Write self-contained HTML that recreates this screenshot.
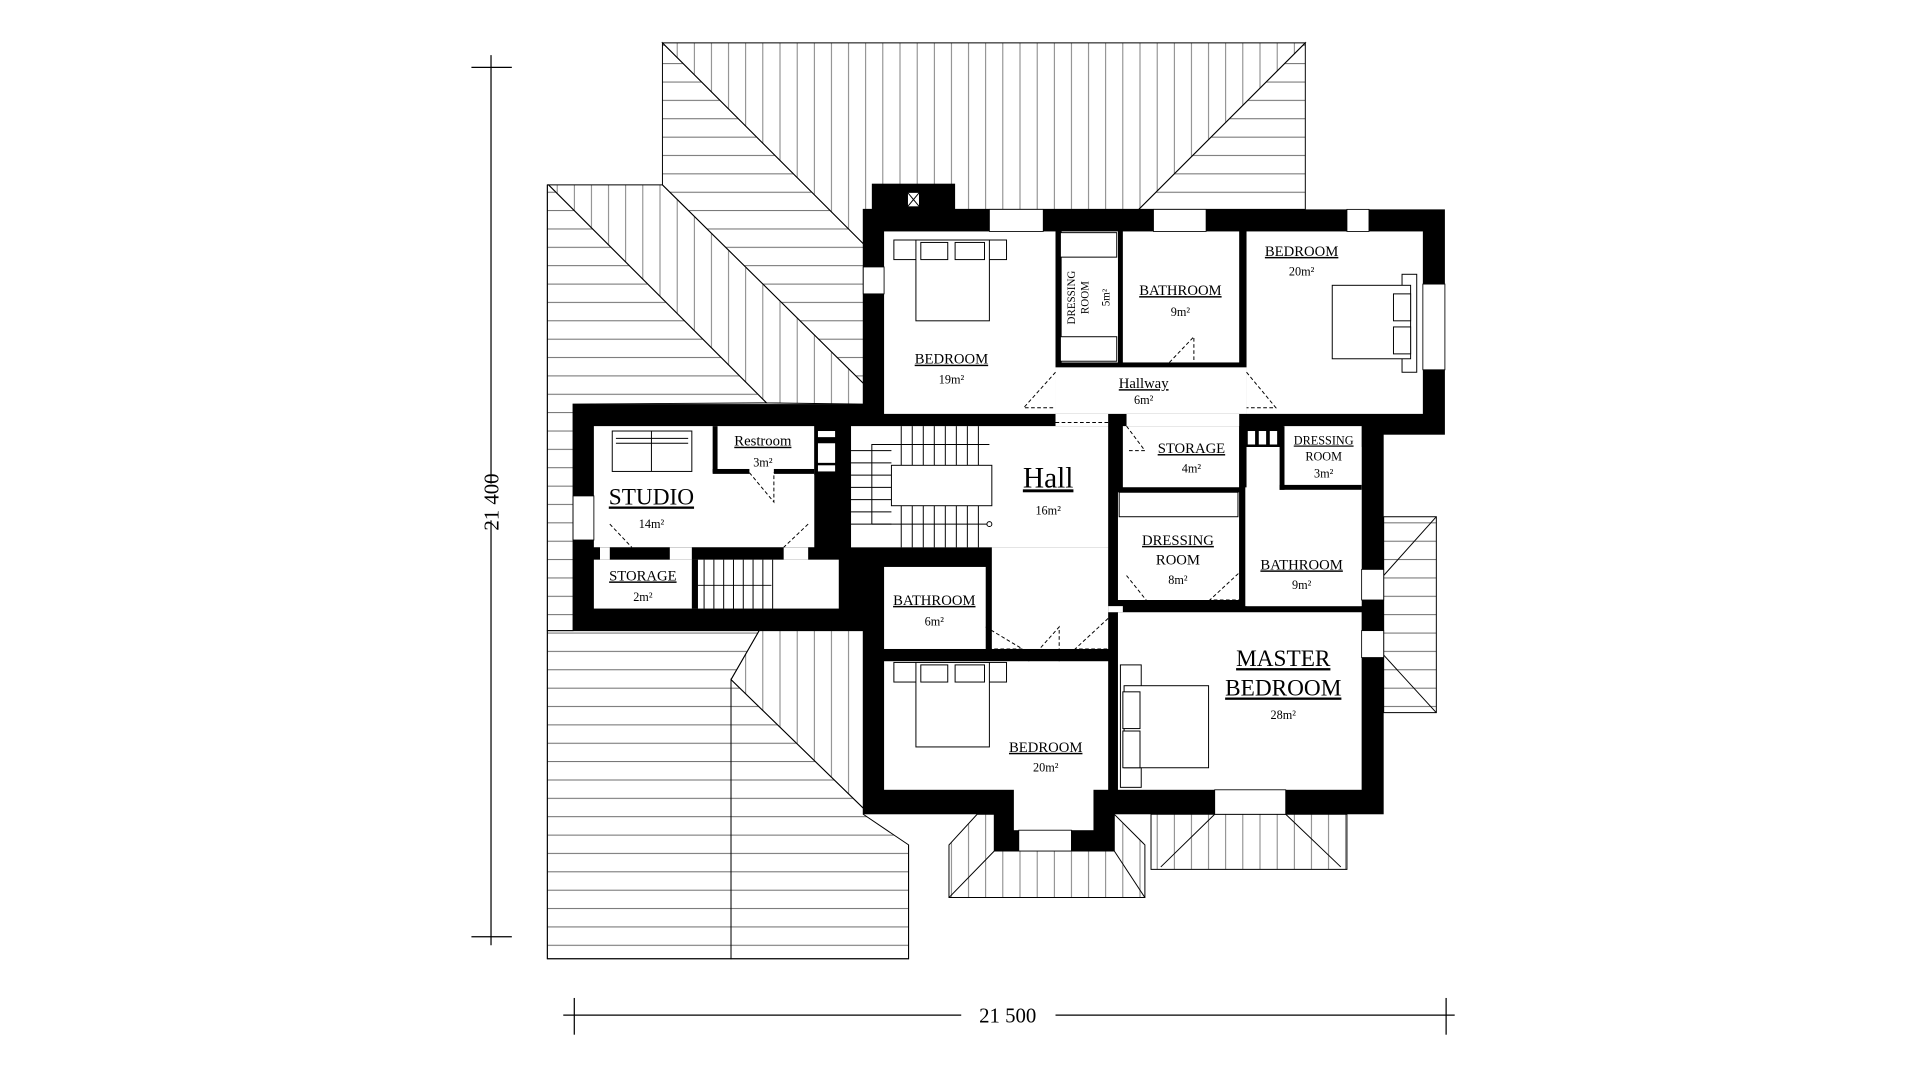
<!DOCTYPE html>
<html><head><meta charset="utf-8"><style>html,body{margin:0;padding:0;background:#fff}svg{display:block}text{font-family:"Liberation Serif",serif;fill:#000}</style></head>
<body>
<svg width="1920" height="1080" viewBox="0 0 1568 882" preserveAspectRatio="none" xmlns="http://www.w3.org/2000/svg">
<defs>
<pattern id="hv" width="14" height="10" patternUnits="userSpaceOnUse"><line x1="7" y1="0" x2="7" y2="10" stroke="#555" stroke-width="0.6"/></pattern>
<pattern id="hh" width="10" height="15" patternUnits="userSpaceOnUse"><line x1="0" y1="7" x2="10" y2="7" stroke="#555" stroke-width="0.7"/></pattern>
</defs>
<rect width="1568" height="882" fill="#fff"/>
<g stroke="#000" stroke-width="1">
<line x1="401" y1="45" x2="401" y2="395"/><line x1="401" y1="425" x2="401" y2="772"/>
<line x1="385" y1="55" x2="418" y2="55"/><line x1="385" y1="765" x2="418" y2="765"/>
<line x1="460" y1="829" x2="785" y2="829"/><line x1="862" y1="829" x2="1188" y2="829"/>
<line x1="469" y1="815" x2="469" y2="845"/><line x1="1181" y1="815" x2="1181" y2="845"/>
</g>
<text x="0" y="0" font-size="17" text-anchor="middle" transform="translate(407,410) rotate(-90)">21 400</text>
<text x="823" y="835" font-size="17" text-anchor="middle">21 500</text>
<g stroke="#000" stroke-width="0.8">
<polygon points="541,35 1066,35 930,171 705,171 705,199" fill="url(#hv)"/>
<polygon points="541,35 705,199 705,313 541,151" fill="url(#hh)"/>
<polygon points="1066,35 1066,171 930,171" fill="url(#hh)"/>
<polygon points="448,151 541,151 705,313 705,330 626,329" fill="url(#hv)"/>
<polygon points="447,151 448,151 626,329 468,330 468,515 447,515" fill="url(#hh)"/>
<polygon points="447,515 620,515 597,555 597,783 447,783" fill="url(#hh)"/>
<polygon points="620,515 705,515 705,660 597,555" fill="url(#hv)"/>
<polygon points="597,555 705,660 705,665 742,690 742,783 597,783" fill="url(#hh)"/>
<polyline points="447,151 447,783 742,783 742,690" fill="none"/>
<polygon points="1130,422 1173,422 1173,582 1130,582" fill="url(#hh)"/>
<line x1="1130" y1="470" x2="1173" y2="422"/><line x1="1130" y1="535" x2="1173" y2="582"/>
<polygon points="798,665 812,665 812,695 910,695 910,665 935,690 935,733 775,733 775,690" fill="url(#hv)"/>
<line x1="812" y1="695" x2="775" y2="733"/><line x1="910" y1="695" x2="935" y2="733"/>
<polygon points="940,665 1100,665 1100,710 940,710" fill="url(#hv)"/>
<line x1="992" y1="665" x2="948" y2="708"/><line x1="1050" y1="665" x2="1095" y2="708"/>
</g>
<g fill="#000">
<rect x="705" y="171" width="475" height="184"/>
<rect x="468" y="330" width="254" height="185"/>
<rect x="705" y="338" width="425" height="327"/>
<rect x="812" y="640" width="98" height="55"/>
<rect x="712" y="150" width="68" height="22"/>
</g>
<rect x="741" y="157" width="10" height="12" fill="#fff" stroke="#000"/>
<line x1="741" y1="157" x2="751" y2="169" stroke="#000" stroke-width="0.8"/><line x1="751" y1="157" x2="741" y2="169" stroke="#000" stroke-width="0.8"/>
<g fill="#fff">
<rect x="722" y="189" width="140" height="149"/>
<rect x="867" y="189" width="46" height="107"/>
<rect x="917" y="189" width="95" height="107"/>
<rect x="1018" y="189" width="144" height="149"/>
<rect x="862" y="300" width="156" height="38"/>
<rect x="862" y="338" width="43" height="10"/>
<rect x="920" y="338" width="92" height="10"/>
<rect x="695" y="348" width="210" height="99"/>
<rect x="810" y="447" width="95" height="83"/>
<rect x="485" y="348" width="180" height="99"/>
<rect x="485" y="457" width="200" height="40"/>
<rect x="722" y="463" width="83" height="67"/>
<rect x="722" y="540" width="183" height="105"/>
<rect x="828" y="640" width="65" height="38"/>
<rect x="917" y="348" width="95" height="50"/>
<rect x="1048" y="348" width="64" height="50"/>
<rect x="913" y="402" width="99" height="88"/>
<rect x="1018" y="365" width="94" height="130"/>
<rect x="1015" y="398" width="97" height="97"/>
<rect x="913" y="500" width="199" height="145"/>
<rect x="905" y="495" width="12" height="5"/>
</g>
<g fill="#000">
<rect x="582" y="348" width="4" height="38"/><rect x="582" y="383" width="30" height="4"/><rect x="632" y="383" width="33" height="4"/>
<rect x="665" y="348" width="20" height="40"/><rect x="685" y="348" width="10" height="99"/>
<rect x="485" y="447" width="210" height="10"/>
<rect x="565" y="457" width="5" height="40"/>
<rect x="1012" y="348" width="5" height="150"/>
<rect x="1015" y="350" width="33" height="15"/>
<rect x="1045" y="348" width="4" height="52"/><rect x="1045" y="396" width="67" height="4"/>
<rect x="913" y="398" width="99" height="4"/>
</g>
<g fill="#fff"><rect x="490" y="447" width="8" height="10"/><rect x="547" y="447" width="18" height="10"/><rect x="640" y="447" width="20" height="10"/>
<rect x="668" y="352" width="14" height="5"/><rect x="668" y="362" width="14" height="16"/><rect x="668" y="380" width="14" height="5"/>
<rect x="1019" y="352" width="6" height="11"/><rect x="1028" y="352" width="6" height="11"/><rect x="1037" y="352" width="6" height="11"/></g>
<g fill="#fff" stroke="#000" stroke-width="0.7">
<rect x="808" y="171" width="44" height="18"/><rect x="942" y="171" width="43" height="18"/><rect x="1100" y="171" width="18" height="18"/>
<rect x="705" y="218" width="17" height="22"/><rect x="1162" y="232" width="18" height="70"/>
<rect x="468" y="405" width="17" height="36"/>
<rect x="1112" y="465" width="18" height="25"/><rect x="1112" y="515" width="18" height="22"/>
<rect x="992" y="645" width="58" height="20"/><rect x="832" y="678" width="43" height="17"/>
</g>
<g stroke="#000" stroke-width="0.8" stroke-dasharray="3,2" fill="none">
<line x1="862" y1="345" x2="905" y2="345"/><line x1="1050" y1="342" x2="1112" y2="342"/>
<polyline points="862,304 836,333 862,333"/><polyline points="1018,304 1042,333 1018,333"/>
<polyline points="955,296 975,275 975,296"/><polyline points="920,348 935,368 920,368"/>
<polyline points="612,386 632,410 632,386"/><polyline points="498,428 516,447"/><polyline points="660,428 640,447"/>
<polyline points="805,512 835,530 805,530"/><polyline points="840,540 865,512 865,540"/><polyline points="905,505 878,530 905,530"/>
<polyline points="920,470 940,495"/><polyline points="1015,465 988,490 1015,490"/>
</g>
<g stroke="#000" stroke-width="0.8" fill="none">
<rect x="728" y="380" width="82" height="33"/>
<path d="M736 348v32M745 348v32M754 348v32M763 348v32M772 348v32M781 348v32M790 348v32M799 348v32M736 413v34M745 413v34M754 413v34M763 413v34M772 413v34M781 413v34M790 413v34M799 413v34M695 368h33M695 378h33M695 388h33M695 398h33M695 408h33M695 418h33M695 428h33"/>
<polyline points="712,428 712,363 808,363"/><polyline points="712,428 808,428"/>
<path d="M575 457v40M583 457v40M591 457v40M599 457v40M607 457v40M615 457v40M623 457v40M631 457v40M570 478h60"/>
<circle cx="808" cy="428" r="2" fill="#fff"/>
</g>
<g stroke="#000" stroke-width="0.8" fill="#fff">
<rect x="730" y="196" width="92" height="16"/><rect x="748" y="196" width="60" height="66"/><rect x="752" y="198" width="22" height="14"/><rect x="780" y="198" width="24" height="14"/>
<rect x="1145" y="224" width="12" height="80"/><rect x="1088" y="233" width="64" height="60"/><rect x="1138" y="240" width="14" height="22"/><rect x="1138" y="267" width="14" height="22"/>
<rect x="730" y="541" width="92" height="16"/><rect x="748" y="541" width="60" height="69"/><rect x="752" y="543" width="22" height="14"/><rect x="780" y="543" width="24" height="14"/>
<rect x="915" y="543" width="17" height="100"/><rect x="918" y="560" width="69" height="67"/><rect x="917" y="565" width="14" height="30"/><rect x="917" y="597" width="14" height="30"/>
<rect x="500" y="352" width="65" height="33"/><line x1="503" y1="358" x2="562" y2="358"/><line x1="503" y1="362" x2="562" y2="362"/><line x1="532" y1="352" x2="532" y2="385"/>
<rect x="866" y="190" width="46" height="20"/><rect x="866" y="275" width="46" height="20"/>
<rect x="914" y="402" width="97" height="20"/>
</g>
<g text-anchor="middle" font-size="12" text-decoration="underline">
<text x="777" y="297">BEDROOM</text>
<text x="964" y="241">BATHROOM</text>
<text x="1063" y="209">BEDROOM</text>
<text x="934" y="317">Hallway</text>
<text x="623" y="364">Restroom</text>
<text x="973" y="370">STORAGE</text>
<text x="1081" y="363" font-size="10">DRESSING</text>
<text x="962" y="445">DRESSING</text>
<text x="1063" y="465">BATHROOM</text>
<text x="525" y="474">STORAGE</text>
<text x="763" y="494">BATHROOM</text>
<text x="854" y="614">BEDROOM</text>
<text x="532" y="412" font-size="19">STUDIO</text>
<text x="856" y="398" font-size="24">Hall</text>
<text x="1048" y="544" font-size="19">MASTER</text>
<text x="1048" y="568" font-size="19">BEDROOM</text>
</g>
<g text-anchor="middle" font-size="10">
<text x="1081" y="376">ROOM</text><text x="962" y="461" font-size="12">ROOM</text>
<text x="777" y="313">19m²</text><text x="964" y="258">9m²</text><text x="1063" y="225">20m²</text>
<text x="934" y="330">6m²</text><text x="623" y="381">3m²</text><text x="973" y="386">4m²</text>
<text x="1081" y="390">3m²</text><text x="962" y="477">8m²</text><text x="1063" y="481">9m²</text>
<text x="525" y="491">2m²</text><text x="763" y="511">6m²</text><text x="854" y="630">20m²</text>
<text x="532" y="431">14m²</text><text x="856" y="420">16m²</text><text x="1048" y="587">28m²</text>
</g>
<text x="0" y="0" font-size="9" text-anchor="middle" transform="translate(878,243) rotate(-90)">DRESSING</text>
<text x="0" y="0" font-size="9" text-anchor="middle" transform="translate(889,243) rotate(-90)">ROOM</text>
<text x="0" y="0" font-size="9" text-anchor="middle" transform="translate(906,243) rotate(-90)">5m²</text>
</svg>
</body></html>
